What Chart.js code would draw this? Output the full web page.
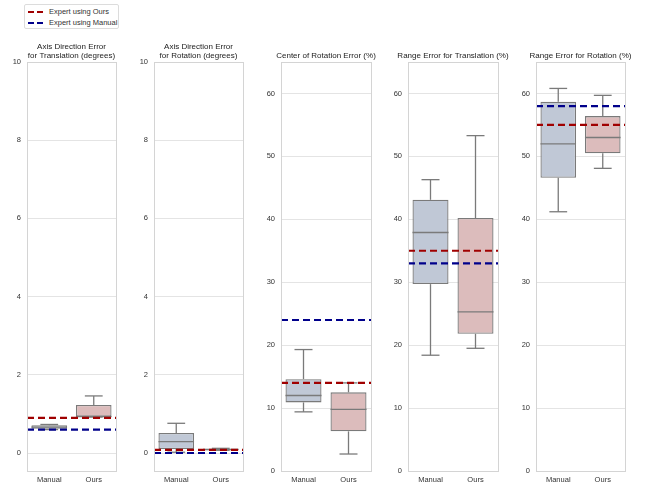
<!DOCTYPE html>
<html>
<head>
<meta charset="utf-8">
<script src="https://cdn.jsdelivr.net/npm/chart.js@4.4.1/dist/chart.umd.min.js"></script>
<style>
body { margin: 0; background: #fff; }
#wrap { position: relative; width: 647px; height: 484px; overflow: hidden; font-family: "Liberation Sans", Arial, sans-serif; }
#wrap canvas { position: absolute; top: 0; }
.legend { position: absolute; z-index: 5; left: 24px; top: 4px; width: 95px; height: 25px; border: 1px solid #dcdcdc; border-radius: 2px; box-sizing: border-box; background: #fff; }
.row { position: absolute; left: 3px; height: 10px; font-size: 7.5px; color: #333; line-height: 10px; white-space: nowrap; }
.dash { position: absolute; top: 4px; width: 6px; height: 2px; }
.txt { position: absolute; left: 21px; top: 0; }
</style>
</head>
<body>
<div id="wrap">
  <div class="legend">
    <div class="row" style="top:2px">
      <span class="dash" style="left:0;background:#a00000"></span><span class="dash" style="left:9px;background:#a00000"></span>
      <span class="txt">Expert using Ours</span>
    </div>
    <div class="row" style="top:13px">
      <span class="dash" style="left:0;background:#00008b"></span><span class="dash" style="left:9px;background:#00008b"></span>
      <span class="txt">Expert using Manual</span>
    </div>
  </div>
</div>
<script>
// categories and panel titles
const categories = ['Manual', 'Ours'];
const titles = [
  ['Axis Direction Error', 'for Translation (degrees)'],
  ['Axis Direction Error', 'for Rotation (degrees)'],
  'Center of Rotation Error (%)',
  'Range Error for Translation (%)',
  'Range Error for Rotation (%)'
];

// box stats: [min, q1, median, q3, max]
const manualStats = [
  [0.60, 0.62, 0.66, 0.71, 0.73],
  [0.02, 0.10, 0.29, 0.51, 0.76],
  [9.4, 10.9, 12.0, 14.6, 19.3],
  [18.4, 29.7, 37.9, 43.1, 46.3],
  [41.2, 46.6, 52.0, 58.7, 60.8]
];
const oursStats = [
  [0.92, 0.93, 0.93, 1.23, 1.46],
  [0.07, 0.07, 0.09, 0.11, 0.12],
  [2.7, 6.3, 9.8, 12.5, 14.0],
  [19.5, 21.8, 25.3, 40.2, 53.3],
  [48.1, 50.5, 53.0, 56.4, 59.7]
];

// expert reference lines
const expertOurs = [0.9, 0.08, 14, 35, 55];
const expertManual = [0.6, 0.0, 24, 33, 58];

// y ranges and tick steps
const yMin = [-0.46, -0.46, 0, 0, 0];
const yMax = [10, 10, 65, 65, 65];
const yStep = [2, 2, 10, 10, 10];

const panelLeft = [27, 154, 281, 408, 536];
const panelRight = [116, 243, 371, 498, 625];

const fillColors = ['#c0c8d6', '#dcbcbc'];
const edge = '#7a7a7a';
const font = "'Liberation Sans', Arial, sans-serif";

function makeBoxPlugin(stats, refs) {
  return {
    id: 'boxes',
    afterDatasetsDraw(chart) {
      const ctx = chart.ctx;
      const x = chart.scales.x, y = chart.scales.y;
      const area = chart.chartArea;
      const catW = x.getPixelForValue(1) - x.getPixelForValue(0);
      const half = catW * 0.8 / 2;
      ctx.save();
      ctx.strokeStyle = edge;
      ctx.lineWidth = 1.3;
      const seg = (x1, y1, x2, y2) => { ctx.beginPath(); ctx.moveTo(x1, y1); ctx.lineTo(x2, y2); ctx.stroke(); };
      stats.forEach((s, i) => {
        const cx = x.getPixelForValue(i);
        seg(cx, y.getPixelForValue(s[0]), cx, y.getPixelForValue(s[1]));
        seg(cx, y.getPixelForValue(s[3]), cx, y.getPixelForValue(s[4]));
        seg(cx - half / 2, y.getPixelForValue(s[0]), cx + half / 2, y.getPixelForValue(s[0]));
        seg(cx - half / 2, y.getPixelForValue(s[4]), cx + half / 2, y.getPixelForValue(s[4]));
        seg(cx - half, y.getPixelForValue(s[2]), cx + half, y.getPixelForValue(s[2]));
      });
      ctx.lineWidth = 2.2;
      ctx.setLineDash([7, 4]);
      refs.forEach(r => {
        ctx.strokeStyle = r.color;
        const py = y.getPixelForValue(r.value);
        seg(area.left, py, area.right, py);
      });
      ctx.restore();
    },
    afterDraw(chart) {
      const a = chart.chartArea, ctx = chart.ctx;
      ctx.save();
      ctx.strokeStyle = '#d4d4d4';
      ctx.lineWidth = 1;
      ctx.strokeRect(Math.round(a.left) + 0.5, Math.round(a.top) + 0.5, Math.round(a.right - a.left), Math.round(a.bottom - a.top));
      ctx.restore();
    }
  };
}

const wrap = document.getElementById('wrap');

titles.forEach((title, k) => {
  const canvas = document.createElement('canvas');
  const w = panelRight[k] - panelLeft[k] + 60;
  canvas.width = w;
  canvas.height = 484;
  canvas.style.left = (panelLeft[k] - 30) + 'px';
  canvas.style.width = w + 'px';
  canvas.style.height = '484px';
  wrap.appendChild(canvas);

  const lines = Array.isArray(title) ? title.length : 1;
  const lineH = 9.2;
  const padTop = 62 - (lines * lineH + 1.5);

  new Chart(canvas, {
    type: 'bar',
    data: {
      labels: categories,
      datasets: [{
        data: [
          [manualStats[k][1], manualStats[k][3]],
          [oursStats[k][1], oursStats[k][3]]
        ],
        backgroundColor: fillColors,
        borderColor: edge,
        borderWidth: 1.3,
        borderSkipped: false,
        barPercentage: 0.8,
        categoryPercentage: 1
      }]
    },
    options: {
      responsive: false,
      animation: false,
      devicePixelRatio: 1,
      layout: { padding: { top: padTop, right: 0, left: 0, bottom: 0 } },
      plugins: {
        legend: { display: false },
        tooltip: { enabled: false },
        title: {
          display: true,
          text: title,
          color: '#222',
          font: { family: font, size: 8, weight: 'normal', lineHeight: 1.15 },
          padding: { top: 0, bottom: 1.5 }
        }
      },
      scales: {
        x: {
          grid: { display: false, drawTicks: false },
          border: { display: false },
          ticks: { color: '#333', font: { family: font, size: 7.5 }, padding: 4 },
          afterFit(scale) { scale.height = 13; }
        },
        y: {
          min: yMin[k],
          max: yMax[k],
          grid: { color: '#e4e4e4', lineWidth: 1, drawTicks: false },
          border: { display: false },
          ticks: { stepSize: yStep[k], includeBounds: false, color: '#333', font: { family: font, size: 7.5 }, padding: 6 },
          afterFit(scale) { scale.width = 30; }
        },
        // empty right-hand spacer so the title centres over the panel
        y2: {
          type: 'linear',
          position: 'right',
          grid: { display: false, drawTicks: false },
          border: { display: false },
          ticks: { display: false },
          afterFit(scale) { scale.width = 30; }
        }
      }
    },
    plugins: [makeBoxPlugin(
      [manualStats[k], oursStats[k]],
      [{ value: expertOurs[k], color: '#a00000' }, { value: expertManual[k], color: '#00008b' }]
    )]
  });
});
</script>
</body>
</html>
